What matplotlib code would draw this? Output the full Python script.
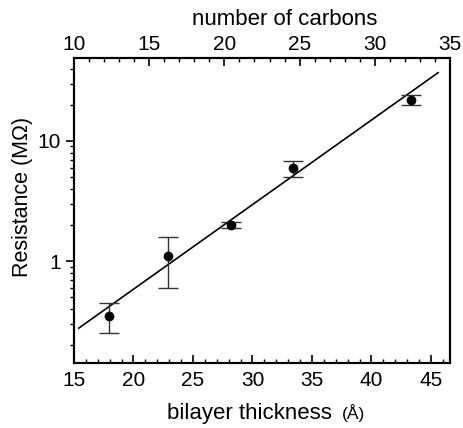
import numpy as np
import matplotlib
matplotlib.use("Agg")
import matplotlib.pyplot as plt
from matplotlib.ticker import MultipleLocator, LogLocator, NullFormatter, FixedLocator, FixedFormatter

plt.rcParams['font.family'] = ['Liberation Sans', 'DejaVu Sans']

# measured points
thickness = [17.9, 22.9, 28.2, 33.4, 43.3]
resistance = [0.35, 1.1, 2.0, 5.9, 22.0]
res_err = [0.1, 0.5, 0.1, 0.9, 2.0]

# fitted line end points
fit_x = [15.4, 45.6]
fit_y = [0.277, 37.0]

carbon_ticks = [10, 15, 20, 25, 30, 35]

fig = plt.figure(figsize=(4.64, 4.28), dpi=100)
ax = fig.add_axes([74 / 464, 1 - 363 / 428, 376 / 464, 305 / 428])

ax.errorbar(thickness, resistance, yerr=res_err, fmt='o', color='black',
            ms=6, ecolor='#333333', elinewidth=1.0, capsize=7.5, capthick=1.0, zorder=3)
ax.plot(fit_x, fit_y, color='black', lw=1.2)

ax.set_yscale('log')
ax.set_xlim(15, 46.6)
ax.set_ylim(0.142, 49)

ax.xaxis.set_major_locator(MultipleLocator(5))
ax.xaxis.set_minor_locator(MultipleLocator(1))
ax.yaxis.set_major_locator(FixedLocator([1, 10]))
ax.yaxis.set_major_formatter(FixedFormatter(['1', '10']))
ax.yaxis.set_minor_locator(LogLocator(base=10, subs=np.arange(2, 10)))
ax.yaxis.set_minor_formatter(NullFormatter())

ax.tick_params(axis='x', which='both', direction='in', labelsize=15, pad=6)
ax.tick_params(axis='x', which='major', length=6, width=1.2)
ax.tick_params(axis='x', which='minor', length=3, width=1.0)
ax.tick_params(axis='y', which='both', direction='out', labelsize=15,
               left=True, right=False)
ax.tick_params(axis='y', which='major', length=6, width=1.2)
ax.tick_params(axis='y', which='minor', length=3, width=1.0)

for s in ax.spines.values():
    s.set_linewidth(1.5)

# axis titles placed by hand
ax.text(0.686, -0.164, 'bilayer thickness', transform=ax.transAxes, fontsize=16,
        ha='right', va='center')
ax.text(0.713, -0.164, '(Å)', transform=ax.transAxes, fontsize=12.5,
        ha='left', va='center')
ax.text(-0.136, 0.544, 'Resistance (MΩ)', transform=ax.transAxes, fontsize=15.5,
        ha='center', va='center', rotation=90)

ax2 = ax.twiny()
ax2.set_xlim(10, 35)
ax2.xaxis.set_major_locator(FixedLocator(carbon_ticks))
ax2.xaxis.set_minor_locator(MultipleLocator(1))
ax2.tick_params(axis='x', which='both', direction='in', labelsize=15, pad=3)
ax2.tick_params(axis='x', which='major', length=6, width=1.2)
ax2.tick_params(axis='x', which='minor', length=3, width=1.0)
ax2.tick_params(axis='y', which='both', left=False, right=False,
                labelleft=False, labelright=False)
ax2.text(0.561, 1.125, 'number of carbons', transform=ax2.transAxes, fontsize=16,
         ha='center', va='center')
for s in ax2.spines.values():
    s.set_linewidth(1.5)

fig.savefig('out.png', dpi=100)
